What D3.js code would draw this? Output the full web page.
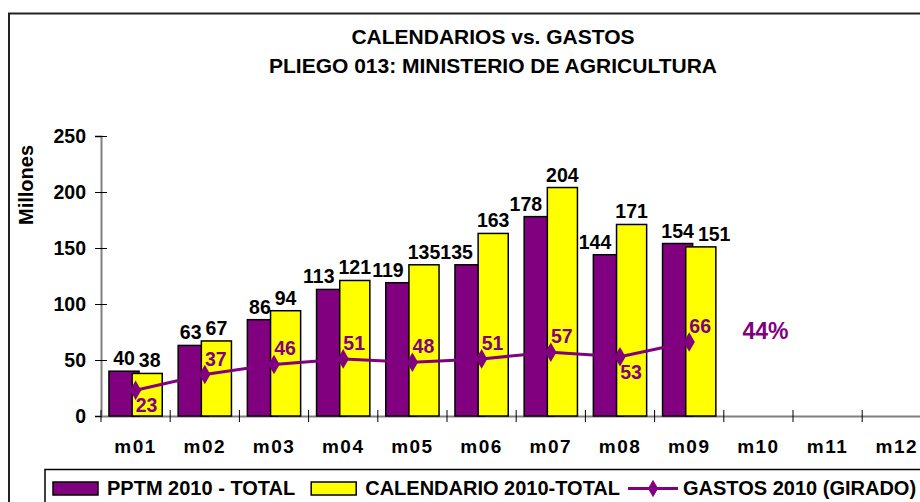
<!DOCTYPE html>
<html>
<head>
<meta charset="utf-8">
<script src="https://cdn.jsdelivr.net/npm/d3@7"></script>
<style>
    body { margin: 0; background: #fff; }
    text { font-family: Arial, "Liberation Sans", sans-serif; font-weight: bold; }
</style>
</head>
<body>
<div id="chart"></div>
<script>
// data
var months = ['m01', 'm02', 'm03', 'm04', 'm05', 'm06', 'm07', 'm08', 'm09', 'm10', 'm11', 'm12'];
var pptm = [40, 63, 86, 113, 119, 135, 178, 144, 154];
var calendario = [38, 67, 94, 121, 135, 163, 204, 171, 151];
var gastos = [23, 37, 46, 51, 48, 51, 57, 53, 66];
var yTicks = [0, 50, 100, 150, 200, 250];
var seriesNames = ['PPTM 2010 - TOTAL', 'CALENDARIO 2010-TOTAL', 'GASTOS 2010 (GIRADO)'];
var gastosBelow = ['m01', 'm08'];   // line labels that sit under the point

var W = 920, H = 502;
var purple = '#800080', yellow = '#ffff00';

var svg = d3.select('#chart').append('svg')
    .attr('width', W)
    .attr('height', H);

svg.append('rect').attr('width', W).attr('height', H).attr('fill', '#fff');

// outer frame (runs off the right and bottom edge)
svg.append('rect')
    .attr('x', 9).attr('y', 13.5)
    .attr('width', 1000).attr('height', 600)
    .attr('fill', 'none')
    .attr('stroke', '#222')
    .attr('stroke-width', 2);

// titles
svg.append('text')
    .attr('x', 493).attr('y', 44)
    .attr('text-anchor', 'middle')
    .style('font-size', '21px')
    .text('CALENDARIOS vs. GASTOS');

svg.append('text')
    .attr('x', 493).attr('y', 73)
    .attr('text-anchor', 'middle')
    .style('font-size', '21px')
    .text('PLIEGO 013: MINISTERIO DE AGRICULTURA');

// scales
var x = d3.scaleBand()
    .domain(months)
    .range([101, 101 + 12 * 69.2])
    .padding(0);

var y = d3.scaleLinear()
    .domain([0, 250])
    .range([416, 136]);

var bw = x.bandwidth();

// y axis with crossing ticks
var yAxis = d3.axisLeft(y)
    .tickValues(yTicks)
    .tickSize(6)
    .tickPadding(9);

var gy = svg.append('g')
    .attr('transform', 'translate(101,0)')
    .call(yAxis);
gy.select('.domain').attr('stroke', '#808080').attr('stroke-width', 2);
gy.selectAll('.tick line').attr('x1', 6).attr('stroke', '#000');
gy.selectAll('.tick text')
    .attr('fill', '#000')
    .style('font-size', '19.5px')
    .style('font-family', 'Arial, "Liberation Sans", sans-serif')
    .style('font-weight', 'bold');

svg.append('text')
    .attr('transform', 'translate(33,185) rotate(-90)')
    .attr('text-anchor', 'middle')
    .style('font-size', '20px')
    .text('Millones');

// x axis: labels at band centres, ticks at band edges
var xAxis = d3.axisBottom(x)
    .tickSize(0)
    .tickPadding(24);

var gx = svg.append('g')
    .attr('transform', 'translate(0,' + y(0) + ')')
    .call(xAxis);
gx.select('.domain').attr('stroke', '#808080').attr('stroke-width', 2);
gx.selectAll('.tick text')
    .attr('fill', '#000')
    .style('font-size', '19px')
    .style('letter-spacing', '1.5px')
    .style('font-family', 'Arial, "Liberation Sans", sans-serif')
    .style('font-weight', 'bold');

gx.selectAll('.edge')
    .data(months)
    .enter()
    .append('line')
    .attr('class', 'edge')
    .attr('x1', d => x(d)).attr('x2', d => x(d))
    .attr('y1', -6).attr('y2', 6)
    .attr('stroke', '#000');

// bars
var barW = bw * 0.435;
var bars = pptm.map((v, i) => ({ m: months[i], p: v, c: calendario[i] }));

svg.selectAll('.bar-p')
    .data(bars)
    .enter()
    .append('rect')
    .attr('class', 'bar-p')
    .attr('x', d => x(d.m) + bw * 0.115)
    .attr('y', d => y(d.p))
    .attr('width', barW)
    .attr('height', d => y(0) - y(d.p))
    .attr('fill', purple)
    .attr('stroke', '#000')
    .attr('stroke-width', 1.5);

svg.selectAll('.bar-c')
    .data(bars)
    .enter()
    .append('rect')
    .attr('class', 'bar-c')
    .attr('x', d => x(d.m) + bw * 0.45)
    .attr('y', d => y(d.c))
    .attr('width', barW)
    .attr('height', d => y(0) - y(d.c))
    .attr('fill', yellow)
    .attr('stroke', '#000')
    .attr('stroke-width', 1.5);

// bar value labels
var lp = svg.selectAll('.lab-p')
    .data(bars)
    .enter()
    .append('text')
    .attr('class', 'lab-p')
    .attr('text-anchor', 'middle')
    .attr('x', d => x(d.m) + bw * 0.115 + barW / 2)
    .attr('y', d => y(d.p) - 6)
    .style('font-size', '19.5px')
    .text(d => d.p);

var lc = svg.selectAll('.lab-c')
    .data(bars)
    .enter()
    .append('text')
    .attr('class', 'lab-c')
    .attr('text-anchor', 'middle')
    .attr('x', d => x(d.m) + bw * 0.45 + barW / 2)
    .attr('y', d => y(d.c) - 6)
    .style('font-size', '19.5px')
    .text(d => d.c);

// push the lower label of a pair sideways when the two collide
var pNodes = lp.nodes(), cNodes = lc.nodes();
bars.forEach((d, i) => {
    var a = pNodes[i], b = cNodes[i];
    var ax = +a.getAttribute('x'), bx = +b.getAttribute('x');
    var overlap = (a.getComputedTextLength() + b.getComputedTextLength()) / 2 + 4 - (bx - ax);
    if (overlap > 0) {
        if (d.p < d.c) a.setAttribute('x', ax - overlap);
        else b.setAttribute('x', bx + overlap);
    }
});

// gastos line
var pts = gastos.map((v, i) => ({ m: months[i], v: v }));
var cx = d => x(d.m) + bw / 2;

svg.append('path')
    .datum(pts)
    .attr('fill', 'none')
    .attr('stroke', purple)
    .attr('stroke-width', 3)
    .attr('d', d3.line().x(cx).y(d => y(d.v)));

svg.selectAll('.dot')
    .data(pts)
    .enter()
    .append('path')
    .attr('class', 'dot')
    .attr('transform', d => 'translate(' + cx(d) + ',' + y(d.v) + ')')
    .attr('d', d3.symbol(d3.symbolDiamond, 110))
    .attr('fill', purple);

svg.selectAll('.lab-g')
    .data(pts)
    .enter()
    .append('text')
    .attr('class', 'lab-g')
    .attr('text-anchor', 'middle')
    .attr('x', d => cx(d) + 11)
    .attr('y', d => gastosBelow.includes(d.m) ? y(d.v) + 22 : y(d.v) - 9)
    .attr('fill', purple)
    .style('font-size', '19.5px')
    .text(d => d.v);

// share spent so far
var last = gastos.length - 1;
svg.append('text')
    .attr('x', x(months[last + 1]) + bw / 2 + 7)
    .attr('y', y(gastos[last]) - 3)
    .attr('text-anchor', 'middle')
    .attr('fill', purple)
    .style('font-size', '23px')
    .text(Math.round(gastos[last] / calendario[last] * 100) + '%');

// legend
svg.append('rect')
    .attr('x', 45).attr('y', 469.5)
    .attr('width', 1000).attr('height', 100)
    .attr('fill', 'none')
    .attr('stroke', '#000')
    .attr('stroke-width', 1.5);

var lx = 53, ly = 482;
[purple, yellow].forEach((c, i) => {
    svg.append('rect')
        .attr('x', lx).attr('y', ly)
        .attr('width', 45).attr('height', 13)
        .attr('fill', c)
        .attr('stroke', '#000')
        .attr('stroke-width', 1.5);
    var t = svg.append('text')
        .attr('x', lx + 54).attr('y', ly + 13)
        .style('font-size', '20px')
        .text(seriesNames[i]);
    lx += 54 + t.node().getComputedTextLength() + 16;
});

lx -= 8;
svg.append('line')
    .attr('x1', lx).attr('x2', lx + 50)
    .attr('y1', ly + 6.5).attr('y2', ly + 6.5)
    .attr('stroke', purple)
    .attr('stroke-width', 3);
svg.append('path')
    .attr('transform', 'translate(' + (lx + 25) + ',' + (ly + 6.5) + ')')
    .attr('d', d3.symbol(d3.symbolDiamond, 90))
    .attr('fill', purple);
svg.append('text')
    .attr('x', lx + 55).attr('y', ly + 13)
    .style('font-size', '20px')
    .text(seriesNames[2]);
</script>
</body>
</html>
